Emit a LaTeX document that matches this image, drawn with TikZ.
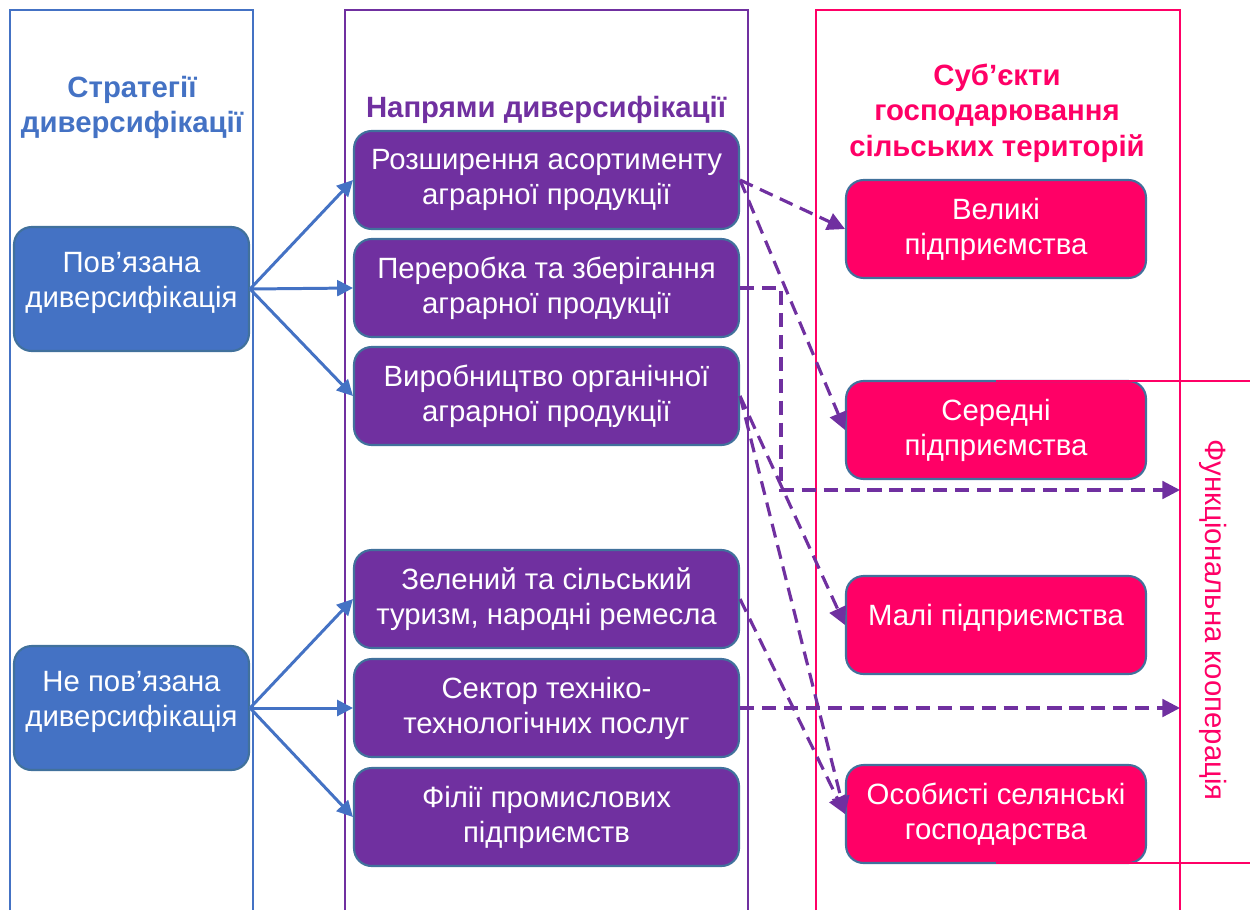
\documentclass[tikz,border=0pt]{standalone}
\usepackage{fontspec}
\setmainfont{Liberation Sans}
\usepackage{tikz}
\usetikzlibrary{arrows.meta}
\definecolor{stratblue}{HTML}{4472C4}
\definecolor{naprpurple}{HTML}{7030A0}
\definecolor{subpink}{HTML}{FF0066}
\definecolor{boxedge}{HTML}{41719C}
\tikzset{
	box/.style={rounded corners=10pt, draw=boxedge, line width=1.2pt, text=white, align=center, inner sep=0pt, font=\fontsize{16.7}{20}\selectfont},
	stratbox/.style={box, fill=stratblue, minimum width=4.7cm, minimum height=2.48cm, text depth=10pt},
	naprbox/.style={box, fill=naprpurple, minimum width=7.7cm, minimum height=1.96cm},
	subbox/.style={box, fill=subpink, minimum width=6cm, minimum height=1.96cm},
	coltitle/.style={align=center, font=\fontsize{16.7}{20.2}\selectfont\bfseries},
	colframe/.style={line width=1.1pt},
	solidarrow/.style={draw=stratblue, line width=1.7pt, -{Triangle[length=9pt,width=9pt]}},
	dasharrow/.style={draw=naprpurple, line width=1.8pt, dash pattern=on 8pt off 4.5pt, -{Triangle[length=10pt,width=10pt]}}
}

\begin{document}
\begin{tikzpicture}[x=0.02cm, y=-0.02cm]
			%%%%% START %%%%%
			\useasboundingbox (0,0) rectangle (1250,910);
			
			% column frames
			\draw[colframe, stratblue] (10,910) -- (10,10) -- (253,10) -- (253,910);
			\draw[colframe, naprpurple] (345,910) -- (345,10) -- (748,10) -- (748,910);
			\draw[colframe, subpink] (816,910) -- (816,10) -- (1180,10) -- (1180,910);
			
			% column titles
			\node[coltitle, text=stratblue] (tstrat) at (132,107.5) {Стратегії\\диверсифікації};
			\node[coltitle, text=naprpurple] (tnapr) at (546,110) {Напрями диверсифікації};
			\node[coltitle, text=subpink] (tsub) at (997,113) {Суб’єкти\\господарювання\\сільських територій};
			
			% strategies
			\node[stratbox] (pov) at (131.5,289) {Пов’язана\\диверсифікація};
			\node[stratbox] (nepov) at (131.5,708) {Не пов’язана\\диверсифікація};
			
			% directions
			\node[naprbox] (rozsh) at (546.5,180) {Розширення асортименту\\аграрної продукції};
			\node[naprbox] (pererob) at (546.5,288) {Переробка та зберігання\\аграрної продукції};
			\node[naprbox] (organ) at (546.5,396) {Виробництво органічної\\аграрної продукції};
			\node[naprbox] (turyzm) at (546.5,599) {Зелений та сільський\\туризм, народні ремесла};
			\node[naprbox] (servis) at (546.5,708) {Сектор техніко-\\технологічних послуг};
			\node[naprbox] (filii) at (546.5,817) {Філії промислових\\підприємств};
			
			% subjects
			\node[subbox] (velyki) at (996,229) {Великі\\підприємства};
			\node[subbox] (seredni) at (996,430) {Середні\\підприємства};
			\node[subbox, text depth=11pt] (mali) at (996,625) {Малі підприємства};
			\node[subbox] (osobysti) at (996,814) {Особисті селянські\\господарства};
			
			% cooperation
			\draw[colframe, subpink] (996,381) -- (1250,381);
			\draw[colframe, subpink] (996,863) -- (1250,863);
			\node[text=subpink, rotate=-90, font=\fontsize{16.7}{20}\selectfont] (koop) at (1213,620) {Функціональна кооперація};
			\coordinate (koopA) at (1180,490);
			\coordinate (koopB) at (1180,708);
			
			% connectors
			\foreach \t in {rozsh,pererob,organ}
				\draw[solidarrow] (pov.east) -- (\t.west);
			\foreach \t in {turyzm,servis,filii}
				\draw[solidarrow] (nepov.east) -- (\t.west);
			
			\draw[dasharrow] (rozsh.east) -- (velyki.west);
			\draw[dasharrow] (rozsh.east) -- (seredni.west);
			\draw[dasharrow] (pererob.east) -- ++(41,0) |- (koopA);
			\draw[dasharrow] (organ.east) -- (mali.west);
			\draw[dasharrow] (organ.east) -- (osobysti.west);
			\draw[dasharrow] (turyzm.east) -- (osobysti.west);
			\draw[dasharrow] (servis.east) -- (koopB);
			
			%%%%% END %%%%%
		\end{tikzpicture}
\end{document}
